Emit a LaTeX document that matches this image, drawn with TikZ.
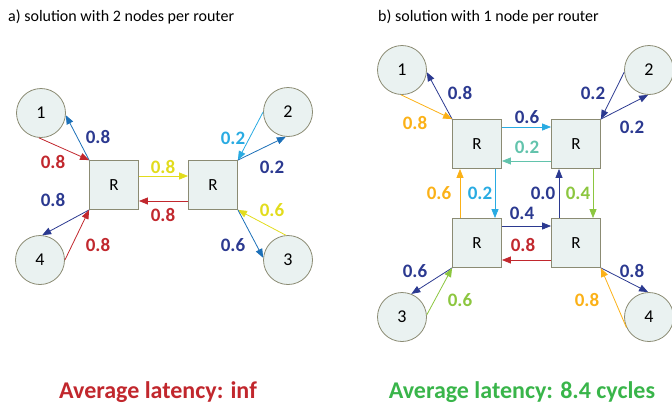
\documentclass[tikz,border=0pt]{standalone}
\usepackage{fontspec}
\setmainfont{Carlito}
\usetikzlibrary{arrows.meta,calc}
\definecolor{navy}{HTML}{2B3990}
\definecolor{midblue}{HTML}{1C70B8}
\definecolor{myred}{HTML}{C1272D}
\definecolor{myyellow}{HTML}{E2DC1C}
\definecolor{mycyan}{HTML}{29ABE2}
\definecolor{myorange}{HTML}{FBB117}
\definecolor{mygreen}{HTML}{8CC63F}
\definecolor{myteal}{HTML}{62C3AC}
\definecolor{titlegreen}{HTML}{39B54A}
\definecolor{nodefill}{HTML}{EAF2F1}
\definecolor{nodeborder}{HTML}{8B8B73}
\begin{document}
\begin{tikzpicture}[x=1pt,y=-1pt,
  router/.style={draw=nodeborder,fill=nodefill,line width=0.8pt,minimum width=49pt,minimum height=49pt,inner sep=0pt,font=\fontsize{17}{17}\selectfont},
  endpt/.style={circle,draw=nodeborder,fill=nodefill,line width=0.8pt,minimum size=49pt,inner sep=0pt,font=\fontsize{18}{18}\selectfont},
  flow/.style={line width=0.8pt,-{Triangle[length=9pt,width=7pt]}},
  lbl/.style={font=\fontsize{19}{19}\selectfont\bfseries,inner sep=0pt},
  ttl/.style={font=\fontsize{16}{16}\selectfont,inner sep=0pt,anchor=west},
  res/.style={font=\fontsize{24}{24}\selectfont\bfseries,inner sep=0pt}
]
\useasboundingbox (0,0) rectangle (672,405);
% titles
\node[ttl] (ta) at (8,17) {a) solution with 2 nodes per router};
\node[ttl] (tb) at (378,17) {b) solution with 1 node per router};
\node[res,text=myred] (ra) at (158,392) {Average latency: inf};
\node[res,text=titlegreen] (rb) at (522,392) {Average latency: 8.4 cycles};

% ---------- panel a ----------
\node[router] (LA) at (114,185) {R};
\node[router] (LB) at (213,185) {R};
\node[endpt] (a1) at (41,113) {1};
\node[endpt] (a4) at (40,260) {4};
\node[endpt] (a2) at (288,112) {2};
\node[endpt] (a3) at (288,260) {3};

\draw[flow,midblue] (LA.north west) -- (a1.-5);
\draw[flow,myred] (a1.-95) -- (LA.north west);
\draw[flow,navy] (LA.south west) -- (a4.85);
\draw[flow,myred] (a4.0) -- (LA.south west);
\draw[flow,myyellow] ([yshift=9pt]LA.east) -- ([yshift=9pt]LB.west);
\draw[flow,myred] ([yshift=-16pt]LB.west) -- ([yshift=-16pt]LA.east);
\draw[flow,mycyan] (a2.180) -- (LB.north east);
\draw[flow,midblue] (LB.north east) -- (a2.-95);
\draw[flow,myyellow] (a3.95) -- (LB.south east);
\draw[flow,midblue] (LB.south east) -- (a3.175);

\node[lbl,text=navy] (la1) at (98,137) {0.8};
\node[lbl,text=myred] (la2) at (53,162) {0.8};
\node[lbl,text=navy] (la3) at (53,200) {0.8};
\node[lbl,text=myred] (la4) at (98,245) {0.8};
\node[lbl,text=myyellow] (la5) at (163,167) {0.8};
\node[lbl,text=myred] (la6) at (163,215) {0.8};
\node[lbl,text=mycyan] (la7) at (233,138) {0.2};
\node[lbl,text=navy] (la8) at (272,167) {0.2};
\node[lbl,text=myyellow] (la9) at (272,210) {0.6};
\node[lbl,text=navy] (la10) at (233,245) {0.6};

% ---------- panel b ----------
\node[router] (TL) at (477,144) {R};
\node[router] (TR) at (576,144) {R};
\node[router] (BL) at (477,243) {R};
\node[router] (BR) at (576,243) {R};
\node[endpt] (b1) at (402,70) {1};
\node[endpt] (b2) at (649,70) {2};
\node[endpt] (b3) at (402,317) {3};
\node[endpt] (b4) at (649,317) {4};

\draw[flow,navy] (TL.north west) -- (b1.-5);
\draw[flow,myorange] (b1.-92) -- (TL.north west);
\draw[flow,navy] (b2.185) -- (TR.north east);
\draw[flow,navy] (TR.north east) -- (b2.-92);
\draw[flow,mycyan] ([yshift=17pt]TL.east) -- ([yshift=17pt]TR.west);
\draw[flow,myteal] ([yshift=-17pt]TR.west) -- ([yshift=-17pt]TL.east);
\draw[flow,myorange] ([xshift=-17pt]BL.north) -- ([xshift=-17pt]TL.south);
\draw[flow,mycyan] ([xshift=18pt]TL.south) -- ([xshift=18pt]BL.north);
\draw[flow,navy] ([xshift=-17pt]BR.north) -- ([xshift=-17pt]TR.south);
\draw[flow,mygreen] ([xshift=17pt]TR.south) -- ([xshift=17pt]BR.north);
\draw[flow,navy] ([yshift=17pt]BL.east) -- ([yshift=17pt]BR.west);
\draw[flow,myred] ([yshift=-17pt]BR.west) -- ([yshift=-17pt]BL.east);
\draw[flow,navy] (BL.south west) -- (b3.68);
\draw[flow,mygreen] (b3.5) -- (BL.south west);
\draw[flow,navy] (BR.south east) -- (b4.92);
\draw[flow,myorange] (b4.205) -- (BR.south east);

\node[lbl,text=navy] (lb1) at (460,93) {0.8};
\node[lbl,text=myorange] (lb2) at (415,123) {0.8};
\node[lbl,text=navy] (lb3) at (527,117) {0.6};
\node[lbl,text=myteal] (lb4) at (527,147) {0.2};
\node[lbl,text=navy] (lb5) at (593,93) {0.2};
\node[lbl,text=navy] (lb6) at (632,127) {0.2};
\node[lbl,text=myorange] (lb7) at (439,193) {0.6};
\node[lbl,text=mycyan] (lb8) at (480,193) {0.2};
\node[lbl,text=navy] (lb9) at (543,193) {0.0};
\node[lbl,text=mygreen] (lb10) at (578,193) {0.4};
\node[lbl,text=navy] (lb11) at (522,213) {0.4};
\node[lbl,text=myred] (lb12) at (523,245) {0.8};
\node[lbl,text=navy] (lb13) at (415,271) {0.6};
\node[lbl,text=mygreen] (lb14) at (460,300) {0.6};
\node[lbl,text=navy] (lb15) at (632,271) {0.8};
\node[lbl,text=myorange] (lb16) at (587,300) {0.8};
\end{tikzpicture}
\end{document}
